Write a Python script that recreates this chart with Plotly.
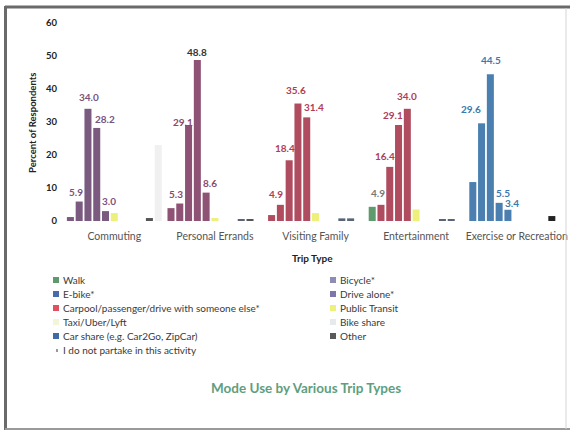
import plotly.graph_objects as go

W, H = 570, 432
L, R, T, B = 64, 3, 23, 211

trip_types = ["Commuting", "Personal Errands", "Visiting Family", "Entertainment", "Exercise or Recreation"]
modes = ["Walk", "Bicycle*", "E-bike*", "Drive alone*",
         "Carpool/passenger/drive with someone else*", "Public Transit",
         "Taxi/Uber/Lyft", "Bike share", "Car share (e.g. Car2Go, ZipCar)",
         "Other", "I do not partake in this activity"]

walk = [1.2, 3.9, 1.8, 4.3, 11.8]
bicycle = [5.9, 5.3, 4.9, 4.9, 29.6]
ebike = [34.0, 29.1, 18.4, 16.4, 44.5]
drive_alone = [28.2, 48.8, 35.6, 29.1, 5.5]
carpool = [3.0, 8.6, 31.4, 34.0, 3.4]
public_transit = [2.4, 0.9, 2.4, 3.5, 0.0]
taxi = [0.0, 0.0, 0.0, 0.0, 0.0]
bike_share = [0.0, 0.0, 0.0, 0.0, 0.0]
car_share = [0.0, 0.5, 0.8, 0.6, 0.0]
other = [0.9, 0.5, 0.8, 0.6, 1.5]
no_partake = [23.0, 0.0, 0.0, 0.0, 0.0]
series = [walk, bicycle, ebike, drive_alone, carpool, public_transit,
          taxi, bike_share, car_share, other, no_partake]
labelled = [False, True, True, True, True, False, False, False, False, False, False]

# ---- styles ----
tint = ["#7b5a80", "#8e5275", "#b04c60", "#b04c60", "#4a7fb0"]
bar_colors = [
    ["#7b5a80", "#8e5275", "#b04c60", "#5e9a6c", "#4a7fb0"],
    tint, tint, tint, tint,
    ["#eef07c"] * 5,
    ["#f6f6dc"] * 5,
    ["#e8ecee"] * 5,
    ["#5a6478"] * 5,
    ["#555555", "#555555", "#5a6478", "#5a6478", "#222222"],
    ["#f0f0f0"] * 5,
]
label_tint = ["#7a527e", "#8a4a6c", "#b03c55", "#b03c55", "#3a78b0"]
# label placement nudges (px) for the labelled series, per trip type
label_dx = {1: [-3, -3.5, -4, -3, -11], 2: [1, -6, -4, -5, 1],
            3: [8, 0, -2, -6, 4], 4: [3, 4, 7, 0, 4]}
label_dy = {1: [10, 9.5, 11, 12, 14], 2: [12, 3, 12, 11, 14],
            3: [9, 8, 14, 10, 10], 4: [10, 10, 10, 13, 7]}
legend_colors = ["#5e9a6c", "#8e8cb4", "#4a6aae", "#7d76aa", "#e0505e", "#eef07c",
                 "#f4f4d8", "#e6eaec", "#3f6aa6", "#5a5a5a", "#9a9a9a"]
FONT = "Lato"
BARGAP = 0.04

pw, ph = W - L - R, H - T - B
def xp(px):
    return (px - L) / pw
def yp(py):
    return (H - B - py) / ph

slot_px = pw / len(trip_types) * (1 - BARGAP) / len(modes)
mid = (len(modes) - 1) / 2

fig = go.Figure()
annotations = []
for i, (name, vals) in enumerate(zip(modes, series)):
    fig.add_trace(go.Bar(
        x=trip_types, y=vals, name=name, showlegend=False,
        marker=dict(color=bar_colors[i], line=dict(width=0)),
        hoverinfo="skip",
    ))
    if labelled[i]:
        for j, (cat, v) in enumerate(zip(trip_types, vals)):
            col = label_tint[j]
            if i == 3 and j == 1:
                col = "#333333"
            if i == 1 and j == 3:
                col = "#777777"
            annotations.append(dict(
                text=f"{v:.1f}", x=cat, y=v, xref="x", yref="y", showarrow=False,
                xanchor="center", yanchor="middle",
                xshift=(i - mid) * slot_px + label_dx[i][j], yshift=label_dy[i][j],
                font=dict(family=FONT, size=10, color=col, weight="bold")))

shapes = []
# manual two-column legend
for i, (name, col) in enumerate(zip(modes, legend_colors)):
    row, c = divmod(i, 2)
    yc = 280 + 14 * row
    mx = 53 if c == 0 else 330
    if i == 10:
        shapes.append(dict(type="rect", xref="paper", yref="paper",
                           x0=xp(mx + 3), x1=xp(mx + 5), y0=yp(yc + 2), y1=yp(yc - 1),
                           fillcolor=col, line=dict(width=0)))
    else:
        shapes.append(dict(type="rect", xref="paper", yref="paper",
                           x0=xp(mx), x1=xp(mx + 6), y0=yp(yc + 3), y1=yp(yc - 3),
                           fillcolor=col, line=dict(width=0)))
    annotations.append(dict(text=name, xref="paper", yref="paper", x=xp(mx + 8), y=yp(yc),
                            xanchor="left", yanchor="middle", showarrow=False,
                            font=dict(family=FONT, size=10, color="#3a3a3a")))

# axis titles and chart title
annotations.append(dict(text="Percent of Respondents", xref="paper", yref="paper",
                        x=xp(33), y=yp(123), textangle=-90, showarrow=False,
                        xanchor="center", yanchor="middle",
                        font=dict(family=FONT, size=9.5, color="#222222", weight="bold")))
annotations.append(dict(text="Trip Type", xref="paper", yref="paper",
                        x=xp(312), y=yp(258), showarrow=False,
                        xanchor="center", yanchor="middle",
                        font=dict(family=FONT, size=10, color="#222222", weight="bold")))
annotations.append(dict(text="Mode Use by Various Trip Types", xref="paper", yref="paper",
                        x=xp(306), y=yp(388), showarrow=False,
                        xanchor="center", yanchor="middle",
                        font=dict(family=FONT, size=13.5, color="#5f9e80", weight="bold")))

# outer frame
shapes += [
    dict(type="line", xref="paper", yref="paper", x0=xp(5), x1=xp(570), y0=yp(7), y1=yp(7),
         line=dict(color="#6a6a6a", width=3)),
    dict(type="line", xref="paper", yref="paper", x0=xp(5.5), x1=xp(5.5), y0=yp(6), y1=yp(430),
         line=dict(color="#6a6a6a", width=3)),
    dict(type="line", xref="paper", yref="paper", x0=xp(5), x1=xp(570), y0=yp(429), y1=yp(429),
         line=dict(color="#9a9a9a", width=2)),
    dict(type="line", xref="paper", yref="paper", x0=xp(566), x1=xp(566), y0=yp(8), y1=yp(429),
         line=dict(color="#d4d4d4", width=1)),
]

fig.update_layout(
    width=W, height=H,
    margin=dict(l=L, r=R, t=T, b=B),
    paper_bgcolor="white", plot_bgcolor="white",
    barmode="group", bargap=BARGAP, bargroupgap=0.2,
    showlegend=False,
    shapes=shapes, annotations=annotations,
    xaxis=dict(type="category", showgrid=False, showline=False, zeroline=False, ticks="",
               tickfont=dict(family=FONT, size=10.5, color="#555555"), ticklabelstandoff=7),
    yaxis=dict(range=[0, 60], dtick=10, showgrid=False, showline=False, zeroline=False,
               ticks="", tickfont=dict(family=FONT, size=9.5, color="#222222", weight="bold"),
               ticklabelstandoff=6),
    font=dict(family=FONT),
)

fig.write_html("out.html")
